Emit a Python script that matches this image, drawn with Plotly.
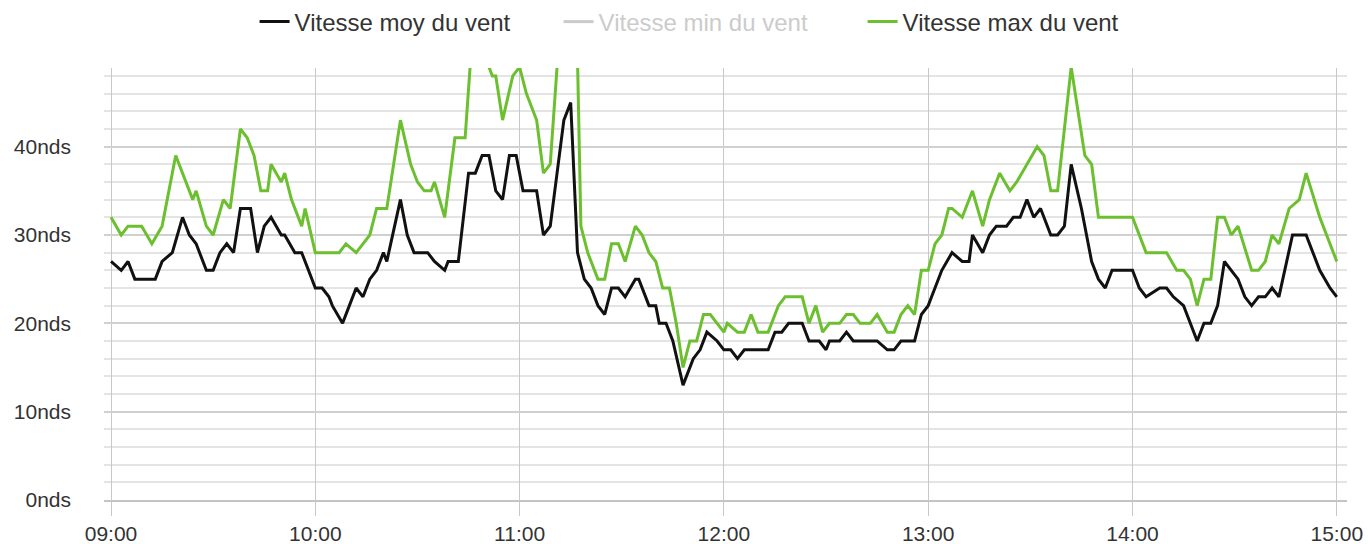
import datetime as dt
import plotly.graph_objects as go

# ---- data (minutes after 09:00, wind speed in knots) ----
moy_minutes = [0, 3, 5, 7, 13, 15, 18, 21, 23, 25, 28, 30, 32, 34, 36, 38, 41, 43, 45, 47,
               50, 51, 54, 56, 58, 60, 62, 64, 65, 68, 70, 72, 74, 76, 78, 80, 81, 85, 87, 89,
               93, 95, 98, 99, 102, 105, 107, 109, 111, 113, 115, 117, 119, 121, 125, 127, 129, 133, 135, 137,
               139, 141, 143, 145, 147, 149, 151, 154, 155, 158, 160, 161, 163, 165, 168, 169, 171, 173, 175, 178,
               180, 182, 184, 186, 193, 195, 197, 199, 203, 205, 208, 210, 211, 214, 216, 218, 225, 228, 230, 232,
               236, 238, 240, 241, 244, 247, 250, 252, 253, 256, 258, 260, 263, 265, 267, 269, 271, 273, 276, 278,
               280, 282, 285, 288, 290, 292, 294, 300, 302, 304, 308, 310, 312, 315, 319, 321, 323, 325, 327, 329,
               331, 333, 335, 337, 339, 341, 343, 347, 351, 355, 358, 360]
moy_values = [27, 26, 27, 25, 25, 27, 28, 32, 30, 29, 26, 26, 28, 29, 28, 33, 33, 28, 31, 32,
              30, 30, 28, 28, 26, 24, 24, 23, 22, 20, 22, 24, 23, 25, 26, 28, 27, 34, 30, 28,
              28, 27, 26, 27, 27, 37, 37, 39, 39, 35, 34, 39, 39, 35, 35, 30, 31, 43, 45, 28,
              25, 24, 22, 21, 24, 24, 23, 25, 25, 22, 22, 20, 20, 18, 13, 14, 16, 17, 19, 18,
              17, 17, 16, 17, 17, 19, 19, 20, 20, 18, 18, 17, 18, 18, 19, 18, 18, 17, 17, 18,
              18, 21, 22, 23, 26, 28, 27, 27, 30, 28, 30, 31, 31, 32, 32, 34, 32, 33, 30, 30,
              31, 38, 33, 27, 25, 24, 26, 26, 24, 23, 24, 24, 23, 22, 18, 20, 20, 22, 27, 26,
              25, 23, 22, 23, 23, 24, 23, 30, 30, 26, 24, 23]

max_minutes = [0, 3, 5, 9, 12, 15, 19, 24, 25, 28, 30, 33, 35, 38, 40, 42, 44, 46, 47, 50,
               51, 53, 56, 57, 60, 67, 69, 72, 74, 76, 78, 81, 85, 88, 90, 92, 94, 95, 98, 101,
               104, 106, 108, 110, 112, 113, 115, 118, 120, 122, 124, 125, 127, 129, 131, 133, 135, 137, 138, 140,
               143, 145, 147, 149, 151, 154, 156, 158, 160, 162, 164, 166, 168, 170, 172, 174, 176, 178, 180, 181,
               184, 186, 188, 190, 193, 196, 198, 203, 205, 207, 209, 211, 214, 216, 218, 220, 223, 225, 228, 230,
               232, 234, 236, 238, 240, 242, 244, 246, 247, 250, 253, 256, 258, 261, 264, 266, 269, 272, 274, 276,
               278, 282, 286, 288, 290, 300, 304, 310, 313, 315, 317, 319, 321, 323, 325, 327, 329, 331, 335, 337,
               339, 341, 343, 346, 349, 351, 355, 360]
max_values = [32, 30, 31, 31, 29, 31, 39, 34, 35, 31, 30, 34, 33, 42, 41, 39, 35, 35, 38, 36,
              37, 34, 31, 33, 28, 28, 29, 28, 29, 30, 33, 33, 43, 38, 36, 35, 35, 36, 32, 41,
              41, 52, 53, 50, 48, 48, 43, 48, 49, 46, 44, 43, 37, 38, 49, 55, 56, 50, 31, 28,
              25, 25, 29, 29, 27, 31, 30, 28, 27, 24, 24, 20, 15, 18, 18, 21, 21, 20, 19, 20,
              19, 19, 21, 19, 19, 22, 23, 23, 20, 22, 19, 20, 20, 21, 21, 20, 20, 21, 19, 19,
              21, 22, 21, 26, 26, 29, 30, 33, 33, 32, 35, 31, 34, 37, 35, 36, 38, 40, 39, 35,
              35, 49, 39, 38, 32, 32, 28, 28, 26, 26, 25, 22, 25, 25, 32, 32, 30, 31, 26, 26,
              27, 30, 29, 33, 34, 37, 32, 27]

# hidden series in the reference (shown only in the legend): values not readable
min_minutes = [0]
min_values = [None]

series_names = ["Vitesse moy du vent", "Vitesse min du vent", "Vitesse max du vent"]
hour_ticks = ["09:00", "10:00", "11:00", "12:00", "13:00", "14:00", "15:00"]
y_ticks = [0, 10, 20, 30, 40]
y_tick_labels = ["0nds", "10nds", "20nds", "30nds", "40nds"]

base = dt.datetime(2024, 1, 1, 9, 0)


def to_time(mins):
    return [base + dt.timedelta(minutes=m) for m in mins]


FONT = "Liberation Sans, Arial, sans-serif"

fig = go.Figure()
fig.add_trace(go.Scatter(x=to_time(moy_minutes), y=moy_values, mode="lines",
                         name=series_names[0], line=dict(color="#111111", width=3)))
fig.add_trace(go.Scatter(x=to_time(min_minutes), y=min_values, mode="lines",
                         name="<span style='color:#999999'>%s</span>" % series_names[1],
                         visible="legendonly", showlegend=True,
                         line=dict(color="#999999", width=3)))
fig.add_trace(go.Scatter(x=to_time(max_minutes), y=max_values, mode="lines",
                         name=series_names[2], line=dict(color="#6cbf2f", width=3)))

tickvals_x = [dt.datetime(2024, 1, 1, int(h[:2]), int(h[3:])) for h in hour_ticks]

fig.update_layout(
    width=1368, height=544,
    margin=dict(l=104, r=21, t=68, b=44, autoexpand=False),
    paper_bgcolor="white", plot_bgcolor="white",
    font=dict(family=FONT, size=21, color="#333333"),
    legend=dict(orientation="h", x=0.488, xanchor="center", yref="container",
                y=(544 - 22) / 544, yanchor="middle",
                font=dict(family=FONT, size=24, color="#333333"),
                entrywidth=259, entrywidthmode="pixels",
                traceorder="normal"),
    showlegend=True,
    hovermode=False,
)
fig.update_xaxes(
    range=[base + dt.timedelta(minutes=-2.06), base + dt.timedelta(minutes=363)],
    tickvals=tickvals_x, ticktext=hour_ticks,
    showgrid=True, gridcolor="#c8c8c8", gridwidth=1,
    ticks="outside", ticklen=14, tickcolor="#c8c8c8", tickwidth=1,
    showline=True, linecolor="#c4c4c4", linewidth=2,
    zeroline=False, automargin=False,
    tickfont=dict(family=FONT, size=21, color="#333333"),
)
fig.update_yaxes(
    range=[0, 48.9],
    tickvals=y_ticks, ticktext=y_tick_labels,
    showgrid=True, gridcolor="#d0d0d0", gridwidth=2,
    minor=dict(dtick=2, tick0=0, showgrid=True, gridcolor="#e4e4e4", gridwidth=2),
    zeroline=False, ticks="", ticklabelstandoff=32, automargin=False,
    tickfont=dict(family=FONT, size=21, color="#333333"),
)

fig.write_html("out.html", config={"displayModeBar": False},
               post_script="document.body.style.margin='0';")
